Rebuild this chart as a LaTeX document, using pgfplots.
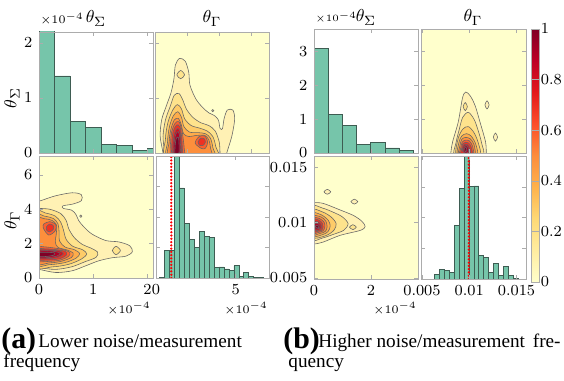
\documentclass[border=0pt]{standalone}
\usepackage{pgfplots}
\usepackage{pgfplotstable}
\pgfplotsset{compat=1.18}
\usepackage[no-math]{fontspec}
\setmainfont{Liberation Serif}
\definecolor{bg}{RGB}{255,255,204}
\definecolor{hfill}{RGB}{118,197,170}
\definecolor{hdraw}{RGB}{62,92,82}
\definecolor{cA}{HTML}{FFF1B4}
\definecolor{cB}{HTML}{FEE38C}
\definecolor{cC}{HTML}{FECB68}
\definecolor{cD}{HTML}{FEAC4A}
\definecolor{cE}{HTML}{FD8F3C}
\definecolor{cF}{HTML}{FC5E2E}
\definecolor{cG}{HTML}{EE3123}
\definecolor{cH}{HTML}{D4101F}
\definecolor{cI}{HTML}{B10026}
\definecolor{cJ}{HTML}{800026}
\pgfplotsset{
  colormap={ylorrd}{rgb255(0cm)=(255,255,204) rgb255(1cm)=(255,237,160) rgb255(2cm)=(254,217,118) rgb255(3cm)=(254,178,76) rgb255(4cm)=(253,141,60) rgb255(5cm)=(252,78,42) rgb255(6cm)=(227,26,28) rgb255(7cm)=(189,0,38) rgb255(8cm)=(128,0,38)},
  cp/.style={scale only axis, anchor=south west, axis on top,
    axis line style={gray!65}, tick style={gray!65}, major tick length=2pt,
    ticklabel style={font=\fontsize{8}{9}\selectfont}, scaled ticks=false},
  cont/.style={cp, axis background/.style={fill=bg}},
  hist/.style={ybar interval, fill=hfill, draw=hdraw, line width=0.4pt},
  lev/.style={smooth cycle, draw=black!60, line width=0.3pt, fill=#1, mark=none},
  truth/.style={red, line width=1.3pt, line cap=round, dash pattern=on 0pt off 1.7pt},
}
% ---------- panel (a) contour levels, columns s (theta_Sigma, 1e-4) and g (theta_Gamma, 1e-4)
\pgfplotstableread{
s g
-0.1 0.5
0 0.5
0.31 0.32
0.61 0.42
0.86 0.71
1.1 1.0
1.35 1.18
1.6 1.27
1.72 1.53
1.67 1.88
1.47 2.1
1.23 2.18
0.98 2.55
0.83 2.96
0.73 3.35
0.68 3.7
0.6 3.95
0.45 4.05
0.44 4.2
0.62 4.3
0.78 4.5
0.78 4.85
0.61 4.96
0.3 4.78
0 4.47
-0.1 4.45
}\aA
\pgfplotstableread{
s g
-0.1 0.6
0 0.6
0.3 0.5
0.6 0.65
0.85 0.95
1.05 1.2
1.08 1.5
0.95 1.75
0.8 1.95
0.65 2.35
0.55 2.85
0.5 3.35
0.4 3.75
0.2 4.0
0 4.05
-0.1 4.05
}\aB
\pgfplotstableread{
s g
-0.1 0.75
0.25 0.65
0.55 0.8
0.78 1.1
0.88 1.4
0.8 1.65
0.62 1.85
0.5 2.25
0.45 2.8
0.4 3.25
0.3 3.6
0.12 3.78
-0.1 3.8
}\aC
\pgfplotstableread{
s g
-0.1 0.85
0.2 0.78
0.48 0.9
0.68 1.15
0.75 1.42
0.65 1.65
0.48 1.8
0.38 2.15
0.37 2.7
0.35 3.15
0.27 3.45
0.1 3.6
-0.1 3.6
}\aD
\pgfplotstableread{
s g
-0.1 0.93
0.2 0.88
0.42 0.98
0.6 1.2
0.63 1.45
0.52 1.63
0.35 1.78
0.3 2.1
0.32 2.6
0.32 3.1
0.24 3.35
0.1 3.45
-0.1 3.4
}\aE
\pgfplotstableread{
s g
-0.1 1.0
0.2 0.97
0.4 1.05
0.54 1.25
0.57 1.48
0.44 1.66
0.25 1.76
0.08 1.82
-0.1 1.82
}\aF
\pgfplotstableread{
s g
0.08 2.9
0.18 2.5
0.3 2.75
0.31 3.1
0.2 3.28
0.09 3.15
}\aFu
\pgfplotstableread{
s g
-0.1 1.08
0.2 1.05
0.4 1.14
0.51 1.35
0.48 1.55
0.32 1.65
0.1 1.7
-0.1 1.7
}\aG
\pgfplotstableread{
s g
0.14 2.78
0.2 2.68
0.27 2.86
0.26 3.06
0.2 3.14
0.14 3.0
}\aGu
\pgfplotstableread{
s g
-0.1 1.15
0.15 1.12
0.35 1.21
0.45 1.4
0.38 1.57
0.18 1.62
-0.1 1.62
}\aH
\pgfplotstableread{
s g
-0.05 1.2
0.15 1.18
0.33 1.28
0.39 1.44
0.26 1.56
0.02 1.57
}\aI
\pgfplotstableread{
s g
-0.05 1.26
0.12 1.25
0.27 1.33
0.28 1.46
0.12 1.5
-0.05 1.47
}\aJ
\pgfplotstableread{
s g
1.35 1.6
1.42 1.36
1.5 1.6
1.42 1.84
}\aK
\pgfplotstableread{
s g
0.75 3.6
0.77 3.53
0.79 3.6
0.77 3.67
}\aL
% ---------- panel (b) contour levels
\pgfplotstableread{
s g
-0.1 0.0118
0 0.0118
0.33 0.01172
0.92 0.01113
1.39 0.01063
1.68 0.01012
1.8 0.00964
1.63 0.00929
0.92 0.00884
0.33 0.00824
0 0.00805
-0.1 0.00805
}\bA
\pgfplotstableread{
s g
-0.1 0.0114
0.3 0.0113
0.7 0.0109
1.0 0.0105
1.2 0.0099
1.05 0.0093
0.65 0.0089
0.3 0.0086
-0.1 0.0085
}\bB
\pgfplotstableread{
s g
-0.1 0.0111
0.3 0.01095
0.6 0.0105
0.78 0.0099
0.7 0.0093
0.4 0.0088
-0.1 0.0087
}\bC
\pgfplotstableread{
s g
-0.1 0.0108
0.25 0.0107
0.5 0.0102
0.57 0.0097
0.5 0.0092
0.3 0.0089
-0.1 0.0088
}\bD
\pgfplotstableread{
s g
-0.1 0.01055
0.25 0.0105
0.42 0.0101
0.46 0.0096
0.4 0.0092
0.2 0.009
-0.1 0.0089
}\bE
\pgfplotstableread{
s g
-0.1 0.0104
0.2 0.01035
0.36 0.01
0.38 0.0096
0.32 0.00925
0.15 0.0091
-0.1 0.009
}\bF
\pgfplotstableread{
s g
-0.1 0.0103
0.18 0.0102
0.3 0.0099
0.32 0.0096
0.27 0.0093
0.12 0.0092
-0.1 0.0091
}\bG
\pgfplotstableread{
s g
-0.05 0.0101
0.15 0.01005
0.25 0.0098
0.26 0.0095
0.2 0.00935
0.05 0.0093
}\bH
\pgfplotstableread{
s g
0.02 0.0099
0.15 0.0099
0.22 0.0097
0.2 0.0095
0.1 0.0094
0.0 0.0095
}\bI
\pgfplotstableread{
s g
0.07 0.00975
0.15 0.0097
0.18 0.0096
0.14 0.0095
0.07 0.00955
0.04 0.0096
}\bJ
\pgfplotstableread{
s g
0.35 0.01277
0.47 0.01255
0.59 0.01277
0.47 0.01299
}\bK
\pgfplotstableread{
s g
1.3 0.01188
1.42 0.01166
1.54 0.01188
1.42 0.0121
}\bL
\pgfplotstableread{
s g
1.25 0.00958
1.37 0.00936
1.49 0.00958
1.37 0.0098
}\bM
\newcommand{\levelsA}[2]{%
  \addplot[lev=cA] table[x=#1,y=#2] {\aA};
  \addplot[lev=cA] table[x=#1,y=#2] {\aL};
  \addplot[lev=cB] table[x=#1,y=#2] {\aB};
  \addplot[lev=cB] table[x=#1,y=#2] {\aK};
  \addplot[lev=cC] table[x=#1,y=#2] {\aC};
  \addplot[lev=cD] table[x=#1,y=#2] {\aD};
  \addplot[lev=cE] table[x=#1,y=#2] {\aE};
  \addplot[lev=cF] table[x=#1,y=#2] {\aF};
  \addplot[lev=cF] table[x=#1,y=#2] {\aFu};
  \addplot[lev=cG] table[x=#1,y=#2] {\aG};
  \addplot[lev=cG] table[x=#1,y=#2] {\aGu};
  \addplot[lev=cH] table[x=#1,y=#2] {\aH};
  \addplot[lev=cI] table[x=#1,y=#2] {\aI};
  \addplot[lev=cJ] table[x=#1,y=#2] {\aJ};
}
\newcommand{\levelsB}[2]{%
  \addplot[lev=cA] table[x=#1,y=#2] {\bA};
  \addplot[lev=cA] table[x=#1,y=#2] {\bK};
  \addplot[lev=cA] table[x=#1,y=#2] {\bL};
  \addplot[lev=cB] table[x=#1,y=#2] {\bB};
  \addplot[lev=cB] table[x=#1,y=#2] {\bM};
  \addplot[lev=cC] table[x=#1,y=#2] {\bC};
  \addplot[lev=cD] table[x=#1,y=#2] {\bD};
  \addplot[lev=cE] table[x=#1,y=#2] {\bE};
  \addplot[lev=cF] table[x=#1,y=#2] {\bF};
  \addplot[lev=cG] table[x=#1,y=#2] {\bG};
  \addplot[lev=cH] table[x=#1,y=#2] {\bH};
  \addplot[lev=cI] table[x=#1,y=#2] {\bI};
  \addplot[lev=cJ] table[x=#1,y=#2] {\bJ};
}
\begin{document}
\begin{tikzpicture}
\path[use as bounding box] (0pt,0pt) rectangle (293.28pt,-197.6pt);
% ================= panel (a)
\begin{axis}[cp, at={(20.28pt,-79.56pt)}, width=59.28pt, height=62.92pt,
  xmin=0, xmax=2.1, ymin=0, ymax=2.2, xtick={0,1,2}, xticklabels={}, ytick={0,1,2}]
\addplot[hist] coordinates {(0,2.4) (0.286,1.40) (0.571,0.58) (0.857,0.46) (1.143,0.15) (1.429,0.14) (1.714,0.05) (2.0,0.08) (2.286,0)};
\end{axis}
\begin{axis}[cont, at={(80.6pt,-79.56pt)}, width=59.28pt, height=62.92pt,
  xmin=0, xmax=7.1, ymin=0, ymax=2.2, xtick={0,2,4,6}, ytick={0,1,2}, xticklabels={}, yticklabels={}]
\levelsA{g}{s}
\end{axis}
\begin{axis}[cont, at={(20.28pt,-144.56pt)}, width=59.28pt, height=63.44pt,
  xmin=0, xmax=2.1, ymin=0, ymax=7.1, xtick={0,1,2}, ytick={0,2,4,6}]
\levelsA{s}{g}
\end{axis}
\begin{axis}[cp, at={(81.12pt,-144.56pt)}, width=58.76pt, height=63.44pt,
  xmin=0, xmax=7.1, ymin=0, ymax=1, xtick={0,5}, ytick={0,0.25,0.5,0.75}, yticklabels={}]
\addplot[hist] coordinates {(0.208,0.008) (0.521,0.229) (0.833,0.223) (1.146,1.05) (1.458,0.738) (1.771,0.444) (2.083,0.317) (2.396,0.248) (2.708,0.38) (3.021,0.344) (3.333,0.333) (3.646,0.085) (3.958,0.091) (4.271,0.074) (4.583,0.06) (4.896,0.1) (5.208,0.01) (5.521,0.044) (5.833,0.01) (6.146,0.004) (6.458,0.004) (6.771,0)};
\addplot[truth] coordinates {(0.96,0) (0.96,1)};
\end{axis}
% ================= panel (b)
\begin{axis}[cp, at={(163.28pt,-79.56pt)}, width=54.08pt, height=64.48pt,
  xmin=0, xmax=3.66, ymin=0, ymax=3.66, xtick={0,2}, xticklabels={}, ytick={0,1,2,3}]
\addplot[hist] coordinates {(0,3.08) (0.5,1.15) (1.0,0.82) (1.5,0.26) (2.0,0.30) (2.5,0.15) (3.0,0.07) (3.5,0)};
\end{axis}
\begin{axis}[cont, at={(218.92pt,-79.56pt)}, width=54.6pt, height=64.48pt,
  xmin=0.0049, xmax=0.016, ymin=0, ymax=3.66, xtick={0.005,0.01,0.015}, ytick={0,1,2,3}, xticklabels={}, yticklabels={},
  colorbar, colormap name=ylorrd, point meta min=0, point meta max=1,
  colorbar style={at={(parent axis.north east)}, anchor=north west, xshift=-5.94pt,
    scale only axis, width=4.16pt, height=131.56pt, ytick={0,0.2,0.4,0.6,0.8,1},
    axis line style={gray!65}, tick style={gray!65}, major tick length=2pt,
    yticklabel style={font=\fontsize{7.8}{9}\selectfont, inner sep=0.8pt}}]
\levelsB{g}{s}
\end{axis}
\begin{axis}[cont, at={(163.28pt,-145.08pt)}, width=54.08pt, height=63.96pt,
  xmin=0, xmax=3.66, ymin=0.0049, ymax=0.016, xtick={0,2}, ytick={0.005,0.01,0.015}, yticklabels={$0.005$,$0.01$,$0.015$}]
\levelsB{s}{g}
\end{axis}
\begin{axis}[cp, at={(218.92pt,-145.08pt)}, width=54.6pt, height=63.96pt,
  xmin=0.0049, xmax=0.016, ymin=0, ymax=1, xtick={0.005,0.01,0.015}, xticklabels={$0.005$,$0.01$,$0.015$}, ytick={0,0.25,0.5,0.75}, yticklabels={}]
\addplot[hist] coordinates {(0.00633,0.04) (0.00685,0.076) (0.00737,0.068) (0.00789,0.054) (0.00841,0.438) (0.00893,0.735) (0.00945,1.05) (0.00997,0.749) (0.01049,0.757) (0.01101,0.195) (0.01153,0.176) (0.01205,0.054) (0.01257,0.13) (0.01309,0.032) (0.01361,0.1) (0.01413,0.027) (0.01465,0.005) (0.01517,0)};
\addplot[truth] coordinates {(0.00995,0) (0.00995,1)};
\end{axis}
% ================= texts
\begin{scope}[x=0.52pt,y=-0.52pt]
\tikzset{tl/.style={font=\fontsize{6.5}{7}\selectfont, inner sep=0pt}, ml/.style={font=\fontsize{9.5}{10}\selectfont, inner sep=0pt}}
\node[tl, anchor=base west] at (40,24) {$\times10^{-4}$};
\node[ml, anchor=base] at (96,23) {$\theta_\Sigma$};
\node[ml, anchor=base] at (212,23) {$\theta_\Gamma$};
\node[ml, rotate=90] at (12,98) {$\theta_\Sigma$};
\node[ml, rotate=90] at (12,220) {$\theta_\Gamma$};
\node[tl, anchor=base east] at (151,313) {$\times10^{-4}$};
\node[tl, anchor=base east] at (268,313) {$\times10^{-4}$};
\node[tl, anchor=base west, font=\fontsize{5.2}{6}\selectfont] at (315,22) {$\times10^{-4}$};
\node[ml, anchor=base] at (366,22) {$\theta_\Sigma$};
\node[ml, anchor=base] at (473,22) {$\theta_\Gamma$};
\node[tl, anchor=base east] at (417,313) {$\times10^{-4}$};
\node[anchor=base west, inner sep=0pt, font=\fontsize{15.5}{15}\selectfont\bfseries] at (1,348) {(a)};
\node[anchor=base west, inner sep=0pt, font=\fontsize{10}{12}\selectfont] at (38,347) {Lower noise/measurement};
\node[anchor=base west, inner sep=0pt, font=\fontsize{10}{12}\selectfont] at (3,367) {frequency};
\node[anchor=base west, inner sep=0pt, font=\fontsize{15.5}{15}\selectfont\bfseries] at (283,348) {(b)};
\node[anchor=base west, inner sep=0pt, font=\fontsize{10}{12}\selectfont] at (318,347) {Higher noise/measurement};
\node[anchor=base east, inner sep=0pt, font=\fontsize{10}{12}\selectfont] at (561,347) {fre-};
\node[anchor=base west, inner sep=0pt, font=\fontsize{10}{12}\selectfont] at (288,367) {quency};
\end{scope}
\end{tikzpicture}
\end{document}
